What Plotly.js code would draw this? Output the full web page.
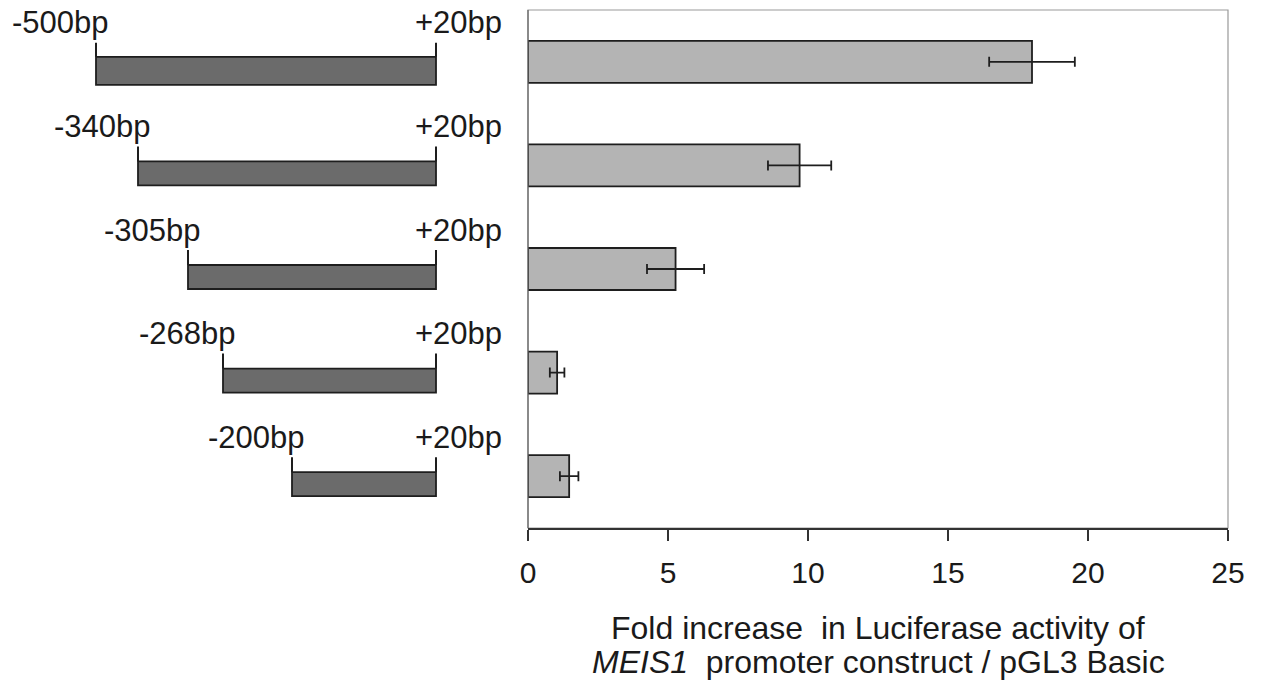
<!DOCTYPE html>
<html>
<head>
<meta charset="utf-8">
<script src="https://cdn.plot.ly/plotly-3.0.1.min.js"></script>
<style>html,body{margin:0;padding:0;background:#fff;}#chart{width:1261px;height:685px;}</style>
</head>
<body>
<div id="chart"></div>
<script>
// Constructs (top to bottom)
const constructLabels = ['-500bp', '-340bp', '-305bp', '-268bp', '-200bp'];
const endLabel = '+20bp';
// schematic start/end positions of each construct, in drawing units of the schematic (not to scale)
const schematicStart = [96, 138, 188, 223, 292];
const schematicEnd = 436;
// Fold increase in luciferase activity and error (SD)
const foldIncrease = [18.0, 9.7, 5.27, 1.04, 1.47];
const foldError = [1.53, 1.13, 1.02, 0.26, 0.33];
const xTicks = [0, 5, 10, 15, 20, 25];

const cats = constructLabels.map((_, i) => i);
const pxPerCat = 518 / 5;
const u = px => px / pxPerCat; // pixel offset to category units
const FONT = '"Liberation Sans", Arial, Helvetica, sans-serif';
const TXT = '#1a1a1a';

const traces = [];

// main bar chart
traces.push({
  type: 'bar', orientation: 'h',
  x: foldIncrease, y: cats,
  width: 0.405,
  marker: {color: '#b4b4b4', line: {color: '#1e1e1e', width: 1.8}},
  error_x: {type: 'data', array: foldError, visible: true, color: '#1e1e1e', thickness: 1.8, width: 5},
  xaxis: 'x', yaxis: 'y', hoverinfo: 'x', showlegend: false
});

// schematic construct bars
const barTop = cats.map((c, i) => i === 0 ? -5 : -4);
const barH = cats.map((c, i) => i === 0 ? 28 : 24);
traces.push({
  type: 'bar', orientation: 'h',
  base: schematicStart,
  x: schematicStart.map(s => schematicEnd - s),
  y: cats,
  offset: barTop.map(u),
  width: barH.map(u),
  marker: {color: '#6b6b6b', line: {color: '#1e1e1e', width: 1.8}},
  xaxis: 'x2', yaxis: 'y', hoverinfo: 'skip', showlegend: false
});

// vertical end marks of the schematic
const tx = [], ty = [];
cats.forEach((c, i) => {
  const top = c + u(-19), bot = c + u(barTop[i]);
  tx.push(schematicStart[i], schematicStart[i], null, schematicEnd, schematicEnd, null);
  ty.push(top, bot, null, top, bot, null);
});
traces.push({
  type: 'scatter', mode: 'lines', x: tx, y: ty,
  line: {color: '#1e1e1e', width: 2},
  xaxis: 'x2', yaxis: 'y', hoverinfo: 'skip', showlegend: false
});

const annotations = [];
cats.forEach((c, i) => {
  annotations.push({
    xref: 'x2', yref: 'y', x: schematicStart[i] + 15, y: c + u(-39),
    xanchor: 'right', yanchor: 'middle', showarrow: false,
    text: constructLabels[i], font: {family: FONT, size: 31, color: TXT}
  });
  annotations.push({
    xref: 'x2', yref: 'y', x: schematicEnd - 23, y: c + u(-39),
    xanchor: 'left', yanchor: 'middle', showarrow: false,
    text: endLabel, font: {family: FONT, size: 31, color: TXT}
  });
});

// axis title (two lines)
annotations.push({
  xref: 'x domain', yref: 'paper', x: 0.5, y: 0, yshift: -100,
  xanchor: 'center', yanchor: 'middle', showarrow: false,
  text: 'Fold increase  in Luciferase activity of',
  font: {family: FONT, size: 32, color: TXT}
});
annotations.push({
  xref: 'x domain', yref: 'paper', x: 0.5, y: 0, yshift: -134,
  xanchor: 'center', yanchor: 'middle', showarrow: false,
  text: '<i>MEIS1</i>  promoter construct / pGL3 Basic',
  font: {family: FONT, size: 32, color: TXT}
});

const layout = {
  width: 1261, height: 685,
  margin: {l: 10, r: 33, t: 10, b: 157, pad: 0},
  paper_bgcolor: '#fff', plot_bgcolor: '#fff',
  barmode: 'overlay',
  xaxis: {
    domain: [518 / 1218, 1], range: [0, 25],
    tickvals: xTicks, ticktext: xTicks.map(String),
    ticks: 'outside', ticklen: 11, tickwidth: 1.5, tickcolor: '#333',
    showline: true, linecolor: '#333', linewidth: 1.5,
    showgrid: false, zeroline: false,
    tickfont: {family: FONT, size: 30, color: TXT},
    ticklabelstandoff: 6
  },
  xaxis2: {
    domain: [0, 518 / 1218], range: [10, 528], anchor: 'y',
    visible: false, fixedrange: true
  },
  yaxis: {
    range: [4.5, -0.5], showticklabels: false, ticks: '',
    showgrid: false, zeroline: false,
    showline: false
  },
  shapes: [
    {type: 'rect', xref: 'x domain', yref: 'y domain', x0: 0, x1: 1, y0: 0, y1: 1,
     line: {color: '#999', width: 1.2}, layer: 'below'},
    {type: 'line', xref: 'x domain', yref: 'y domain', x0: 0, x1: 0, y0: 0, y1: 1,
     line: {color: '#666', width: 1.2}, layer: 'above'}
  ],
  annotations: annotations
};

Plotly.newPlot('chart', traces, layout, {displayModeBar: false, staticPlot: true});
</script>
</body>
</html>
